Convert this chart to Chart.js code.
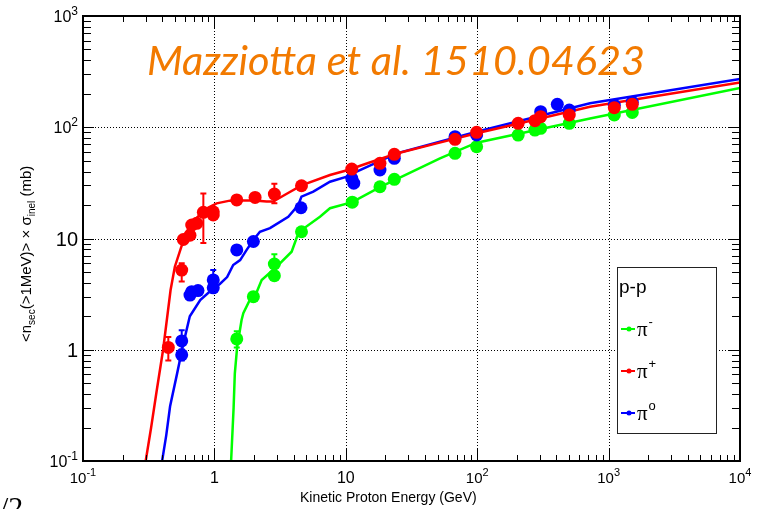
<!DOCTYPE html>
<html>
<head>
<meta charset="utf-8">
<script src="https://cdn.jsdelivr.net/npm/chart.js@4.4.1/dist/chart.umd.min.js"></script>
<style>
  html, body { margin: 0; padding: 0; background: #fff; }
  #wrap { width: 765px; height: 509px; position: relative; }
</style>
</head>
<body>
<div id="wrap"><canvas id="chart" width="765" height="509"></canvas></div>
<script>
// --- axis ticks ---
const xTickValues = [0.1, 1, 10, 100, 1000, 10000];
const xTickLabels = ["10^-1", "1", "10", "10^2", "10^3", "10^4"];
const yTickValues = [0.1, 1, 10, 100, 1000];
const yTickLabels = ["10^-1", "1", "10", "10^2", "10^3"];

// --- measured points: pi- (green) ---
const piMinusX  = [1.48, 1.98, 2.86, 2.86, 4.6, 11.2, 18.2, 23.4, 67.8, 99, 205, 275, 304, 502, 1105, 1514];
const piMinusY  = [1.25, 3.0, 4.63, 5.9, 11.5, 21.2, 29.2, 34.0, 58.3, 66.9, 85.1, 94.4, 97.8, 108.4, 128.8, 136];
const piMinusLo = [1.05, null, null, 5.0, null, null, null, null, null, null, null, null, null, null, null, null];
const piMinusHi = [1.47, null, null, 7.2, null, null, null, null, null, null, null, null, null, null, null, null];

// --- measured points: pi+ (red) ---
const piPlusX  = [0.446, 0.564, 0.58, 0.652, 0.672, 0.733, 0.824, 0.98, 0.98, 1.48, 2.04, 2.86, 4.6, 11.1, 18.2, 23.4, 67.8, 99, 205, 275, 304, 502, 1105, 1514];
const piPlusY  = [1.05, 5.2, 9.8, 10.7, 13.2, 13.7, 17.2, 17.4, 16.3, 22.2, 23.4, 25.1, 29.8, 42.1, 47.4, 57.1, 77.9, 90.0, 108.5, 114.6, 124.4, 128.8, 150, 160.8];
const piPlusLo = [0.8, 4.1, null, null, null, null, 9.1, null, null, null, null, 20.7, null, null, null, null, null, null, null, null, null, null, null, null];
const piPlusHi = [1.3, 6.0, null, null, null, null, 25.4, null, null, null, null, 31, null, null, null, null, null, null, null, null, null, null, null, null];

// --- measured points: pi0 (blue) ---
const piZeroX  = [0.564, 0.564, 0.652, 0.672, 0.75, 0.98, 0.98, 1.48, 1.98, 4.56, 11.1, 11.5, 18.2, 23.4, 67.8, 99, 304, 407, 502, 1105, 1514];
const piZeroY  = [1.2, 0.9, 3.1, 3.33, 3.4, 4.24, 3.6, 7.9, 9.4, 18.9, 34.8, 31.4, 41.3, 52.6, 82.2, 85.2, 138, 160.8, 142.9, 158, 168];
const piZeroLo = [1.0, 0.8, null, null, null, 3.6, null, null, null, null, null, null, null, null, null, null, null, null, null, 148, 158];
const piZeroHi = [1.5, 1.0, null, null, null, 5.2, null, null, null, null, null, null, null, null, null, null, null, null, null, 172, 180];

// --- model curves ---
const curveRedX = [0.30, 0.33, 0.364, 0.407, 0.464, 0.50, 0.56, 0.633, 0.72, 0.80, 0.90, 1.04, 1.31, 1.6, 2.0, 2.5, 2.8, 3.5, 4.6, 7.58, 10.4, 15, 24.4, 50, 99, 200, 722, 10000];
const curveRedY = [0.1, 0.2, 0.43, 1.0, 3.44, 5.58, 8.4, 12.3, 15, 16.9, 19, 20.7, 21.9, 22, 22, 21.5, 21.5, 25, 30, 37.2, 41.3, 48, 58, 72, 88.3, 107, 153, 252];
const curveBlueX = [0.40, 0.43, 0.46, 0.52, 0.58, 0.65, 0.78, 0.95, 1.10, 1.25, 1.39, 1.57, 1.76, 1.98, 2.22, 2.65, 3.65, 4.35, 4.6, 5.66, 7.58, 10.2, 12.1, 24.4, 99, 722, 10000];
const curveBlueY = [0.1, 0.17, 0.31, 0.61, 1.13, 2.0, 2.8, 3.44, 3.9, 4.5, 5.78, 6.4, 7.9, 9.7, 11.5, 12.4, 15.7, 20.0, 23.8, 26.4, 32.4, 36, 40, 58.3, 91.2, 164, 271];
const curveGreenX = [1.34, 1.40, 1.43, 1.49, 1.61, 1.66, 1.86, 2.1, 2.29, 2.89, 3.87, 4.26, 4.6, 6.36, 7.58, 11.2, 18.2, 52.1, 99, 722, 10000];
const curveGreenY = [0.1, 0.3, 0.61, 1.06, 1.85, 2.13, 2.8, 3.3, 4.24, 5.4, 7.6, 10.4, 11.9, 15.7, 18.7, 21.2, 29.0, 52.6, 72.7, 120, 226];

const RED = "#ff0000", GREEN = "#00ff00", BLUE = "#0000ff";
const FONT = "'Liberation Sans', Arial, sans-serif";

function pts(xs, ys) {
  return xs.map((x, i) => ({ x: x, y: ys[i] }));
}

function curveSet(xs, ys, color, order) {
  return {
    data: pts(xs, ys), showLine: true, pointRadius: 0, borderWidth: 2.5,
    borderColor: color, backgroundColor: color, tension: 0, order: order,
  };
}

function pointSet(xs, ys, lo, hi, color, order) {
  return {
    data: pts(xs, ys), showLine: false, pointRadius: 6.5, borderWidth: 0,
    backgroundColor: color, borderColor: color, order: order,
    errLo: lo, errHi: hi,
  };
}

// label like "10^2" -> 10 with superscript 2
function drawTickLabel(ctx, text, x, y, align, baseSize, plainSize) {
  const parts = text.split("^");
  ctx.textAlign = "left";
  ctx.textBaseline = "alphabetic";
  if (parts.length === 1) {
    ctx.font = plainSize + "px " + FONT;
    const w = ctx.measureText(parts[0]).width;
    const x0 = align === "center" ? x - w / 2 : align === "right" ? x - w : x;
    ctx.fillText(parts[0], x0, y);
    return;
  }
  const supSize = Math.round(baseSize * 0.72);
  ctx.font = baseSize + "px " + FONT;
  const wb = ctx.measureText(parts[0]).width;
  ctx.font = supSize + "px " + FONT;
  const we = ctx.measureText(parts[1]).width;
  const total = wb + we;
  const x0 = align === "center" ? x - total / 2 : align === "right" ? x - total : x;
  ctx.font = baseSize + "px " + FONT;
  ctx.fillText(parts[0], x0, y);
  ctx.font = supSize + "px " + FONT;
  ctx.fillText(parts[1], x0 + wb, y - baseSize * 0.45);
}

const rootStyle = {
  id: "rootStyle",
  beforeDatasetsDraw(chart) {
    const ctx = chart.ctx, a = chart.chartArea;
    const xs = chart.scales.x, ys = chart.scales.y;
    ctx.save();
    ctx.strokeStyle = "#000";
    ctx.lineWidth = 1;
    ctx.setLineDash([1, 2]);
    xTickValues.forEach((v) => {
      if (v <= xs.min || v >= xs.max) return;
      const px = Math.round(xs.getPixelForValue(v)) + 0.5;
      ctx.beginPath(); ctx.moveTo(px, a.top); ctx.lineTo(px, a.bottom); ctx.stroke();
    });
    yTickValues.forEach((v) => {
      if (v <= ys.min || v >= ys.max) return;
      const py = Math.round(ys.getPixelForValue(v)) + 0.5;
      ctx.beginPath(); ctx.moveTo(a.left, py); ctx.lineTo(a.right, py); ctx.stroke();
    });
    ctx.restore();
  },
  beforeDatasetDraw(chart, args) {
    const ds = chart.data.datasets[args.index];
    if (!ds.errLo) return;
    const ctx = chart.ctx;
    const xs = chart.scales.x, ys = chart.scales.y;
    ctx.save();
    ctx.strokeStyle = ds.backgroundColor;
    ctx.lineWidth = 2;
    ds.data.forEach((p, i) => {
      if (ds.errLo[i] == null) return;
      const px = xs.getPixelForValue(p.x);
      const y1 = ys.getPixelForValue(ds.errLo[i]);
      const y2 = ys.getPixelForValue(ds.errHi[i]);
      ctx.beginPath();
      ctx.moveTo(px, y1); ctx.lineTo(px, y2);
      ctx.moveTo(px - 3, y1); ctx.lineTo(px + 3, y1);
      ctx.moveTo(px - 3, y2); ctx.lineTo(px + 3, y2);
      ctx.stroke();
    });
    ctx.restore();
  },
  afterDraw(chart) {
    const ctx = chart.ctx, a = chart.chartArea;
    const xs = chart.scales.x, ys = chart.scales.y;
    ctx.save();
    ctx.strokeStyle = "#000";
    ctx.fillStyle = "#000";

    // ticks, inward on all four sides
    ctx.lineWidth = 1;
    ctx.beginPath();
    for (let d = -1; d <= 4; d++) {
      for (let m = 1; m <= 9; m++) {
        const v = m * Math.pow(10, d);
        if (v < xs.min * 0.999 || v > xs.max * 1.001) continue;
        const px = Math.round(xs.getPixelForValue(v)) + 0.5;
        const len = m === 1 ? 13 : 6;
        ctx.moveTo(px, a.bottom); ctx.lineTo(px, a.bottom - len);
        ctx.moveTo(px, a.top); ctx.lineTo(px, a.top + len);
      }
    }
    for (let d = -1; d <= 3; d++) {
      for (let m = 1; m <= 9; m++) {
        const v = m * Math.pow(10, d);
        if (v < ys.min * 0.999 || v > ys.max * 1.001) continue;
        const py = Math.round(ys.getPixelForValue(v)) + 0.5;
        const len = m === 1 ? 11 : 8;
        ctx.moveTo(a.left, py); ctx.lineTo(a.left + len, py);
        ctx.moveTo(a.right, py); ctx.lineTo(a.right - len, py);
      }
    }
    ctx.stroke();

    // frame
    ctx.lineWidth = 2;
    ctx.strokeRect(a.left, a.top, a.right - a.left, a.bottom - a.top);

    // tick labels
    xTickValues.forEach((v, i) => {
      drawTickLabel(ctx, xTickLabels[i], xs.getPixelForValue(v), 483, "center", 15, 16);
    });
    yTickValues.forEach((v, i) => {
      const py = ys.getPixelForValue(v);
      const big = yTickLabels[i].indexOf("^") < 0;
      drawTickLabel(ctx, yTickLabels[i], 78, py + (big ? 7 : 6), "right", 16, 20);
    });

    // x title
    ctx.font = "14px " + FONT;
    ctx.textAlign = "left";
    ctx.fillText("Kinetic Proton Energy (GeV)", 300, 502);

    // y title, rotated with subscripts
    ctx.save();
    ctx.translate(31, 342);
    ctx.rotate(-Math.PI / 2);
    const pieces = [["<n", 15, 0], ["sec", 10, 4], ["(>1MeV)> × σ", 15, 0], ["inel", 10, 4], [" (mb)", 15, 0]];
    let cx = 0;
    pieces.forEach(([t, s, dy]) => {
      ctx.font = s + "px " + FONT;
      ctx.fillText(t, cx, dy);
      cx += ctx.measureText(t).width;
    });
    ctx.restore();

    // orange header
    ctx.save();
    ctx.fillStyle = "#f27a00";
    ctx.font = "italic 41px Lato, 'Open Sans', sans-serif";
    const title = "Mazziotta et al. 1510.04623";
    const tw = ctx.measureText(title).width;
    ctx.translate(147, 75);
    ctx.scale(498 / tw, 1);
    ctx.fillText(title, 0, 0);
    ctx.restore();

    // legend
    const lx = 617, ly = 267, lw = 99, lh = 166;
    ctx.fillStyle = "#fff";
    ctx.fillRect(lx, ly, lw, lh);
    ctx.lineWidth = 1;
    ctx.strokeStyle = "#222";
    ctx.strokeRect(lx + 0.5, ly + 0.5, lw, lh);
    ctx.fillStyle = "#000";
    ctx.font = "19px " + FONT;
    ctx.fillText("p-p", 619, 293);
    const entries = [[GREEN, "-", 329], [RED, "+", 371], [BLUE, "o", 413]];
    entries.forEach(([c, sup, y]) => {
      ctx.strokeStyle = c;
      ctx.fillStyle = c;
      ctx.lineWidth = 2;
      ctx.beginPath(); ctx.moveTo(621, y); ctx.lineTo(635, y); ctx.stroke();
      ctx.beginPath(); ctx.arc(629, y, 2.5, 0, Math.PI * 2); ctx.fill();
      ctx.fillStyle = "#000";
      ctx.font = "21px 'Liberation Serif', serif";
      ctx.fillText("π", 637, y + 7);
      const w = ctx.measureText("π").width;
      ctx.font = "13px " + FONT;
      ctx.fillText(sup, 637 + w + 1, y - 3);
    });

    // cut-off page number at bottom left
    ctx.font = "30px 'Liberation Serif', serif";
    ctx.fillText("/2", 0, 517);
    ctx.restore();
  },
};

new Chart(document.getElementById("chart"), {
  type: "scatter",
  data: {
    datasets: [
      curveSet(curveGreenX, curveGreenY, GREEN, 6),
      curveSet(curveBlueX, curveBlueY, BLUE, 5),
      curveSet(curveRedX, curveRedY, RED, 4),
      pointSet(piMinusX, piMinusY, piMinusLo, piMinusHi, GREEN, 3),
      pointSet(piZeroX, piZeroY, piZeroLo, piZeroHi, BLUE, 2),
      pointSet(piPlusX, piPlusY, piPlusLo, piPlusHi, RED, 1),
    ],
  },
  options: {
    responsive: false,
    animation: false,
    devicePixelRatio: 1,
    layout: { padding: { left: 83, right: 25, top: 16, bottom: 48 } },
    plugins: { legend: { display: false }, tooltip: { enabled: false } },
    scales: {
      x: { type: "logarithmic", min: 0.1, max: 10000, display: false },
      y: { type: "logarithmic", min: 0.1, max: 1000, display: false },
    },
  },
  plugins: [rootStyle],
});
</script>
</body>
</html>
